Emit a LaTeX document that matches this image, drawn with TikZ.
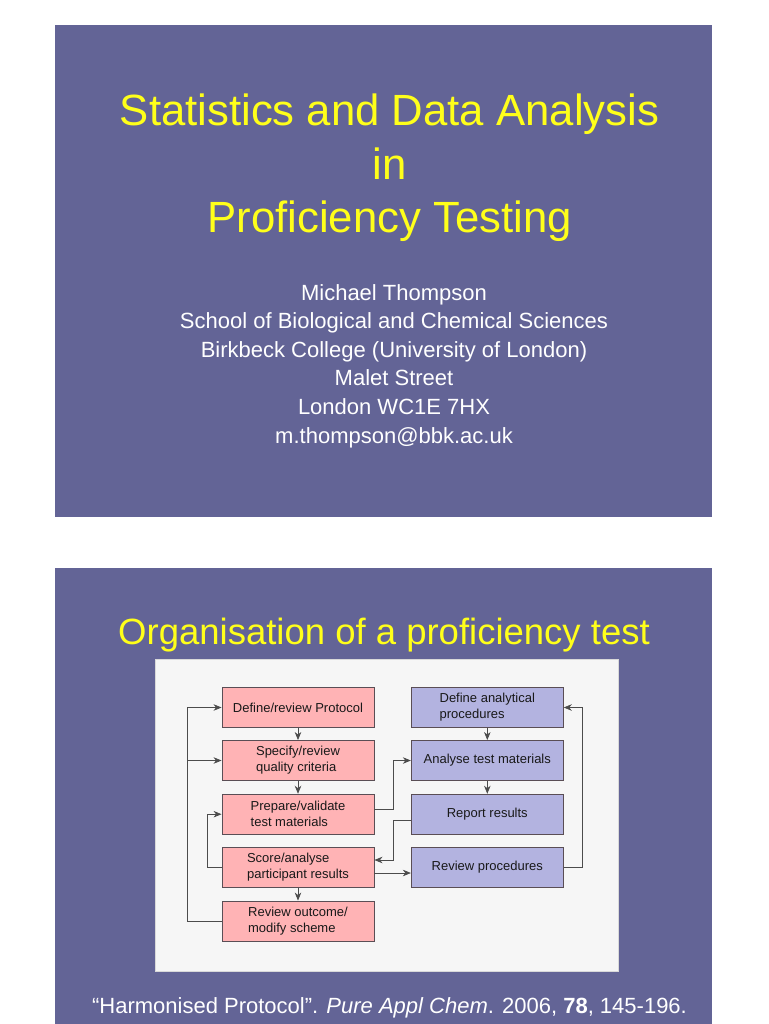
\documentclass[tikz,border=0pt]{standalone}
\usepackage{fontspec}
\setmainfont{Liberation Sans}
\usetikzlibrary{arrows.meta,calc}
\definecolor{slide}{HTML}{636496}
\definecolor{ttl}{HTML}{FFFF1A}
\definecolor{pinkbox}{HTML}{FFB3B5}
\definecolor{lavbox}{HTML}{B3B3E0}
\definecolor{panel}{HTML}{F6F6F6}
\definecolor{edge}{HTML}{5A4E55}
\begin{document}
\begin{tikzpicture}[x=1pt,y=-1pt,
  titletext/.style={text=ttl,font=\fontsize{43.7}{53}\selectfont,anchor=base,inner sep=0},
  whitetext/.style={text=white,font=\fontsize{22}{28.6}\selectfont,anchor=base,inner sep=0},
  pbox/.style={draw=edge,line width=0.9pt,fill=pinkbox,minimum width=152,minimum height=40,
    font=\fontsize{13}{16}\selectfont,align=left,text=black!90,inner sep=0},
  lbox/.style={pbox,fill=lavbox},
  conn/.style={draw=black!70,line width=0.7pt},
  arr/.style={conn,-{Stealth[length=8pt,width=6.5pt,inset=2.5pt]}}]
\useasboundingbox (0,0) rectangle (768,1024);
\fill[white] (0,0) rectangle (768,1024);
% slides
\fill[slide] (55,25) rectangle (712,517);
\fill[slide] (55,568) rectangle (712,1024);
% top slide text
\node[titletext] (t1) at (389.5,126) {Statistics and Data Analysis};
\node[titletext] (t2) at (389.5,179.5) {in};
\node[titletext] (t3) at (389.5,233) {Proficiency Testing};
\node[whitetext] (a1) at (394,300) {Michael Thompson};
\node[whitetext] (a2) at (394,328.6) {School of Biological and Chemical Sciences};
\node[whitetext] (a3) at (394,357.2) {Birkbeck College (University of London)};
\node[whitetext] (a4) at (394,385.8) {Malet Street};
\node[whitetext] (a5) at (394,414.4) {London WC1E 7HX};
\node[whitetext] (a6) at (394,443) {m.thompson@bbk.ac.uk};
% second slide
\node[titletext,font=\fontsize{36.5}{44}\selectfont] (s1) at (384,644) {Organisation of a proficiency test};
\filldraw[fill=panel,draw=black!15,line width=0.6pt] (155,659) rectangle (618,971);
\node[pbox] (b1) at (298,707.5) {Define/review Protocol};
\node[pbox] (b2) at (298,760.5) {Specify/review\\quality criteria};
\node[pbox] (b3) at (298,814.2) {Prepare/validate\\test materials};
\node[pbox] (b4) at (298,867.5) {Score/analyse\\participant results};
\node[pbox] (b5) at (298,921) {Review outcome/\\modify scheme};
\node[lbox] (r1) at (487.3,707.5) {Define analytical\\procedures};
\node[lbox] (r2) at (487.3,760.5) {Analyse test materials};
\node[lbox] (r3) at (487.3,814.2) {Report results};
\node[lbox] (r4) at (487.3,867.5) {Review procedures};
% vertical arrows
\draw[arr] (b1) -- (b2);
\draw[arr] (b2) -- (b3);
\draw[arr] (b4) -- (b5);
\draw[arr] (r1) -- (r2);
\draw[arr] (r2) -- (r3);
% outer left loop
\coordinate (lx) at (187,0);
\draw[arr] (b5.west) -- (b5.west -| lx) |- (b1.west);
\draw[arr] (b2.west -| lx) -- (b2.west);
% inner left loop
\coordinate (ix) at (207.7,0);
\draw[arr] (b4.west) -- (b4.west -| ix) |- (b3.west);
% middle connectors
\coordinate (mx) at (393.3,0);
\draw[arr] ([yshift=5pt]b3.east) -- ([yshift=5pt]b3.east -| mx) |- (r2.west);
\draw[arr] ([yshift=-6pt]r3.west) -- ([yshift=-6pt]r3.west -| mx) |- ([yshift=7.5pt]b4.east);
\draw[arr] ([yshift=-5.5pt]b4.east) -- ([yshift=-5.5pt]r4.west);
% right loop
\coordinate (rx) at (582.3,0);
\draw[arr] (r4.east) -- (r4.east -| rx) |- (r1.east);
% citation
\node[whitetext] (c1) at (389.5,1013) {\textquotedblleft Harmonised Protocol\textquotedblright. \textit{Pure Appl Chem}. 2006, \textbf{78}, 145-196.};
\end{tikzpicture}
\end{document}
